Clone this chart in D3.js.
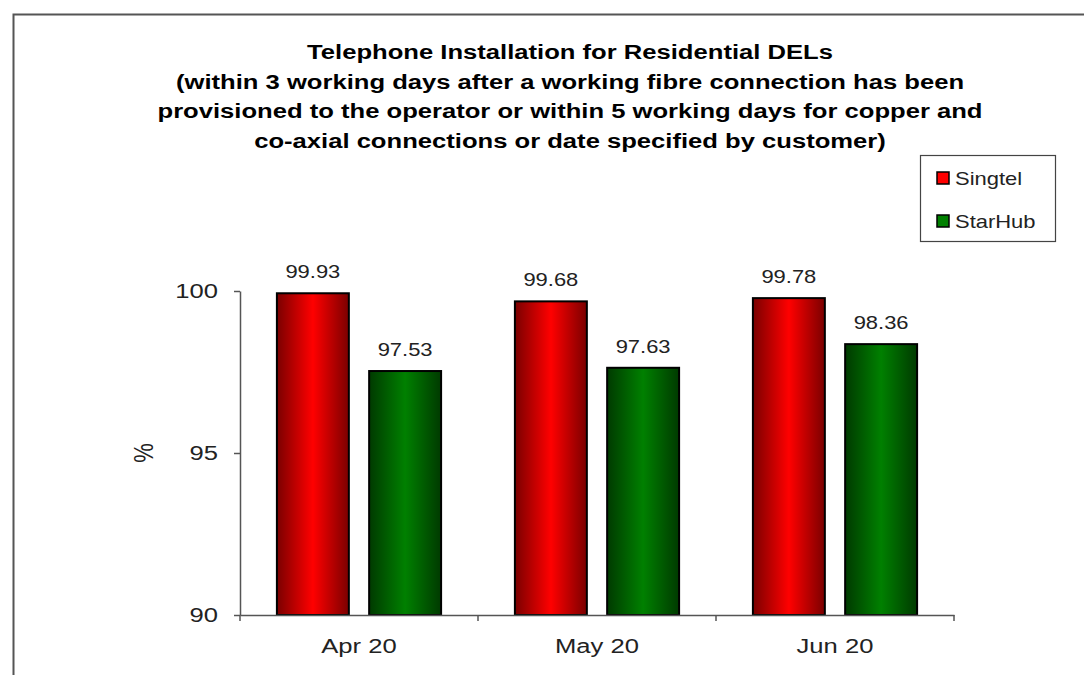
<!DOCTYPE html>
<html>
<head>
<meta charset="utf-8">
<script src="https://cdn.jsdelivr.net/npm/d3@7"></script>
<style>
  body { margin: 0; background: #fff; }
  svg { display: block; font-family: "Liberation Sans", Arial, sans-serif; }
</style>
</head>
<body>
<div id="chart"></div>
<script>
const months = ["Apr 20", "May 20", "Jun 20"];
const operators = ["Singtel", "StarHub"];
const singtelValues = [99.93, 99.68, 99.78];
const starhubValues = [97.53, 97.63, 98.36];
const yTicks = [90, 95, 100];
const titleLines = [
  "Telephone Installation for Residential DELs",
  "(within 3 working days after a working fibre connection has been",
  "provisioned to the operator or within 5 working days for copper and",
  "co-axial connections or date specified by customer)"
];

const width = 1084;
const height = 675;
const plot = { left: 240, right: 954, top: 291, bottom: 615 };
// the source picture is stretched sideways a little
const stretch = 1.22;

const seriesColors = {
  Singtel: { edge: "#7a0000", mid: "#ff0000" },
  StarHub: { edge: "#003a00", mid: "#008000" }
};

const data = months.map((m, i) => ({
  month: m,
  Singtel: singtelValues[i],
  StarHub: starhubValues[i]
}));

const svg = d3.select("#chart")
  .append("svg")
  .attr("width", width)
  .attr("height", height);

// text placed at (x, y) then widened
function wideText(sel, x, y) {
  return sel
    .attr("x", 0)
    .attr("y", 0)
    .attr("transform", (d, i) => {
      const px = typeof x === "function" ? x(d, i) : x;
      const py = typeof y === "function" ? y(d, i) : y;
      return `translate(${px},${py}) scale(${stretch},1)`;
    });
}

const defs = svg.append("defs");
operators.forEach((op) => {
  const grad = defs.append("linearGradient")
    .attr("id", `grad-${op}`)
    .attr("x1", "0%").attr("x2", "100%")
    .attr("y1", "0%").attr("y2", "0%");
  grad.append("stop").attr("offset", "0%").attr("stop-color", seriesColors[op].edge);
  grad.append("stop").attr("offset", "50%").attr("stop-color", seriesColors[op].mid);
  grad.append("stop").attr("offset", "100%").attr("stop-color", seriesColors[op].edge);
});

// outer frame (cut off on right and bottom)
svg.append("path")
  .attr("d", `M13.5,${height} V14.5 H${width}`)
  .attr("fill", "none")
  .attr("stroke", "#555")
  .attr("stroke-width", 2);

// title
svg.append("g")
  .selectAll("text")
  .data(titleLines)
  .join("text")
  .call(wideText, 570, (d, i) => 59 + i * 29.5)
  .attr("text-anchor", "middle")
  .attr("font-size", 21)
  .attr("font-weight", "bold")
  .attr("fill", "#000")
  .text((d) => d);

const x0 = d3.scaleBand()
  .domain(months)
  .range([plot.left, plot.right]);

const x1 = d3.scaleBand()
  .domain(operators)
  .range([0, x0.bandwidth()])
  .paddingInner(0.22)
  .paddingOuter(0.4);

const y = d3.scaleLinear()
  .domain([90, 100])
  .range([plot.bottom, plot.top]);

// bars
const groups = svg.append("g")
  .selectAll("g")
  .data(data)
  .join("g")
  .attr("transform", (d) => `translate(${x0(d.month)},0)`);

groups.selectAll("rect")
  .data((d) => operators.map((op) => ({ op, value: d[op] })))
  .join("rect")
  .attr("x", (d) => x1(d.op))
  .attr("y", (d) => y(d.value))
  .attr("width", x1.bandwidth())
  .attr("height", (d) => y(90) - y(d.value))
  .attr("fill", (d) => `url(#grad-${d.op})`)
  .attr("stroke", "#000")
  .attr("stroke-width", 2);

groups.selectAll("text")
  .data((d) => operators.map((op) => ({ op, value: d[op] })))
  .join("text")
  .call(wideText, (d) => x1(d.op) + x1.bandwidth() / 2, (d) => y(d.value) - 15)
  .attr("text-anchor", "middle")
  .attr("font-size", 18)
  .attr("fill", "#222")
  .text((d) => d3.format(".2f")(d.value));

// y axis
const yAxis = svg.append("g")
  .attr("transform", `translate(${plot.left},0)`)
  .call(d3.axisLeft(y).tickValues(yTicks).tickSize(6).tickSizeOuter(0).tickFormat(""));
yAxis.select(".domain").attr("stroke", "#555").attr("stroke-width", 1.5);
yAxis.selectAll(".tick line").attr("stroke", "#555").attr("stroke-width", 1.5);

svg.append("g")
  .selectAll("text")
  .data(yTicks)
  .join("text")
  .call(wideText, plot.left - 22, (d) => y(d) + 7)
  .attr("text-anchor", "end")
  .attr("font-size", 21)
  .attr("fill", "#222")
  .text((d) => d);

// x axis
const xAxis = svg.append("g")
  .attr("transform", `translate(0,${plot.bottom})`)
  .call(d3.axisBottom(x0).tickSize(0).tickFormat(""));
xAxis.select(".domain").attr("stroke", "#555").attr("stroke-width", 1.5);

svg.append("g")
  .selectAll("line")
  .data(months.map((m) => x0(m)).concat([plot.right]))
  .join("line")
  .attr("x1", (d) => d)
  .attr("x2", (d) => d)
  .attr("y1", plot.bottom)
  .attr("y2", plot.bottom + 6)
  .attr("stroke", "#555")
  .attr("stroke-width", 1.5);

svg.append("g")
  .selectAll("text")
  .data(months)
  .join("text")
  .call(wideText, (d) => x0(d) + x0.bandwidth() / 2, plot.bottom + 38)
  .attr("text-anchor", "middle")
  .attr("font-size", 21)
  .attr("fill", "#222")
  .text((d) => d);

// y label
svg.append("text")
  .attr("transform", `translate(153,453) scale(${stretch},1) rotate(-90)`)
  .attr("text-anchor", "middle")
  .attr("font-size", 22)
  .attr("fill", "#222")
  .text("%");

// legend
const legend = svg.append("g").attr("transform", "translate(920,155)");
legend.append("rect")
  .attr("x", 0.5).attr("y", 0.5)
  .attr("width", 135).attr("height", 86)
  .attr("fill", "#fff")
  .attr("stroke", "#444")
  .attr("stroke-width", 1.2);

const legendItems = legend.selectAll("g.item")
  .data(operators)
  .join("g")
  .attr("class", "item")
  .attr("transform", (d, i) => `translate(17,${23 + i * 43})`);

legendItems.append("rect")
  .attr("x", 0).attr("y", -6)
  .attr("width", 12).attr("height", 12)
  .attr("fill", (d) => seriesColors[d].mid)
  .attr("stroke", "#000")
  .attr("stroke-width", 1.5);

legendItems.append("text")
  .call(wideText, 18, 7)
  .attr("font-size", 18)
  .attr("fill", "#222")
  .text((d) => d);
</script>
</body>
</html>
